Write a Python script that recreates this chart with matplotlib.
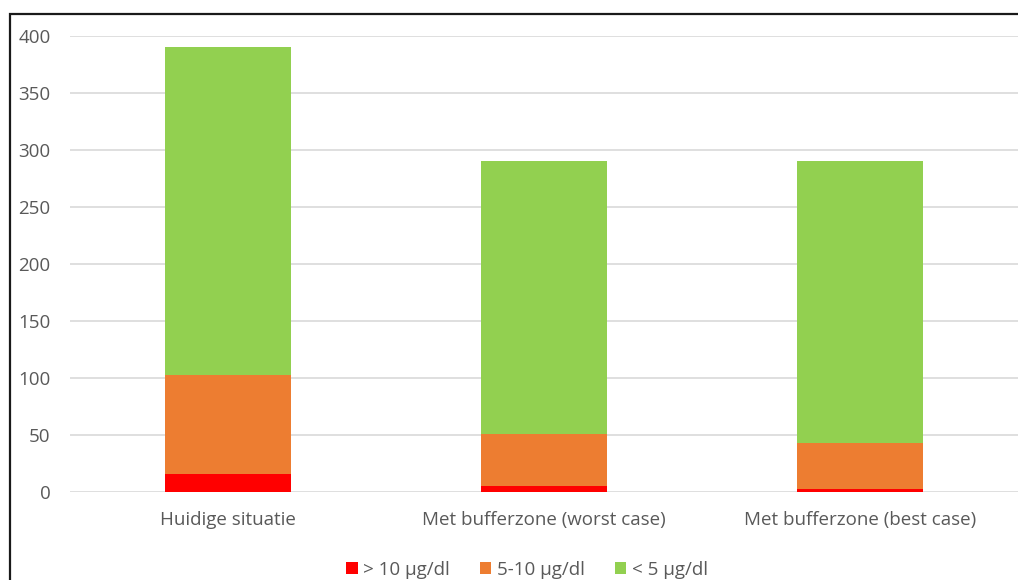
import matplotlib.pyplot as plt
import matplotlib.patches as mpatches
import numpy as np

categories = ['Huidige situatie', 'Met bufferzone (worst case)', 'Met bufferzone (best case)']
above10 = [16, 5, 3]
between5and10 = [87, 46, 40]
below5 = [287, 239, 247]
series_labels = ['> 10 µg/dl', '5-10 µg/dl', '< 5 µg/dl']
colors = ['#ff0000', '#ed7d31', '#92d050']

plt.rcParams['font.family'] = ['Open Sans', 'DejaVu Sans']

fig = plt.figure(figsize=(10.18, 5.8), dpi=100)
ax = fig.add_axes([70 / 1018, 1 - 492 / 580, 948 / 1018, 456 / 580])

x = np.arange(len(categories))
bottom = np.zeros(len(categories))
handles = []
for vals, lab, col in zip([above10, between5and10, below5], series_labels, colors):
    b = ax.bar(x, vals, width=0.4, bottom=bottom, color=col, label=lab, zorder=2)
    bottom += np.array(vals)
    handles.append(b)

ax.set_xlim(-0.5, len(categories) - 0.5)
ax.set_ylim(0, 400)
ax.set_yticks(range(0, 401, 50))
ax.yaxis.grid(True, color='#d9d9d9', linewidth=1.2, zorder=0)
ax.set_axisbelow(True)
for s in ax.spines.values():
    s.set_visible(False)
ax.tick_params(length=0, colors='#595959', labelsize=13.5)
ax.tick_params(axis='y', pad=14)
ax.tick_params(axis='x', pad=14)
ax.set_xticks(x)
ax.set_xticklabels(categories)
for t in ax.get_yticklabels():
    t.set_horizontalalignment('right')

leg = fig.legend(handles=handles, loc='center', bbox_to_anchor=(527 / 1018, 1 - 570 / 580),
                 ncol=3, frameon=False, fontsize=13.5, handlelength=0.6, handleheight=0.6,
                 handletextpad=0.3, columnspacing=1.6)
for t in leg.get_texts():
    t.set_color('#595959')

# outer frame of the chart area
fig.patches.append(mpatches.Rectangle((10 / 1018, -0.1), 1.2, 1 - 14 / 580 + 0.1,
                                      transform=fig.transFigure, fill=False,
                                      edgecolor='#1a1a1a', linewidth=1.6))

fig.savefig('out.png', dpi=100)
